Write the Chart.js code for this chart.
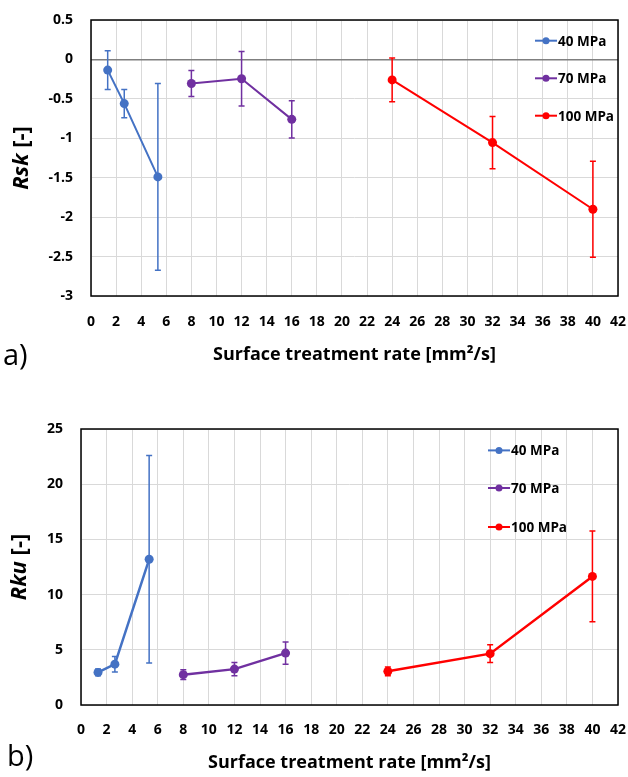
<!DOCTYPE html>
<html lang="en">
<head>
<meta charset="UTF-8">
<title>Rsk and Rku vs surface treatment rate</title>
<script src="https://cdn.jsdelivr.net/npm/chart.js@4.4.1/dist/chart.umd.min.js"></script>
<style>
  body { margin: 0; background: #fff; width: 628px; height: 777px; position: relative; overflow: hidden; }
  canvas { position: absolute; left: 0; }
  #chartA { top: 0; }
  #chartB { top: 390px; }
  .tag { position: absolute; font: 29px "Open Sans", sans-serif; color: #000; line-height: 34px; }
</style>
</head>
<body>
<canvas id="chartA" width="628" height="390"></canvas>
<canvas id="chartB" width="628" height="387"></canvas>
<div class="tag" style="left:3px;top:337px">a)</div>
<div class="tag" style="left:7px;top:738px">b)</div>
<script>
// surface treatment rate [mm²/s] for each pressure
var rate40 = [1.33, 2.65, 5.33];
var rate70 = [8, 12, 16];
var rate100 = [24, 32, 40];

// a) Rsk mean values and error bar half-widths
var rsk40 = [-0.135, -0.56, -1.49];
var rsk70 = [-0.305, -0.245, -0.76];
var rsk100 = [-0.26, -1.055, -1.90];
var rskErr40 = [0.245, 0.18, 1.185];
var rskErr70 = [0.165, 0.345, 0.235];
var rskErr100 = [0.277, 0.33, 0.61];

// b) Rku mean values and error bar half-widths
var rku40 = [2.95, 3.7, 13.2];
var rku70 = [2.75, 3.25, 4.7];
var rku100 = [3.05, 4.65, 11.65];
var rkuErr40 = [0.3, 0.7, 9.4];
var rkuErr70 = [0.45, 0.6, 1.0];
var rkuErr100 = [0.4, 0.8, 4.1];

var seriesNames = ["40 MPa", "70 MPa", "100 MPa"];
var seriesColors = ["#4472C4", "#7030A0", "#FF0000"];
var xTitle = "Surface treatment rate [mm\u00B2/s]";

var FONT = "'Open Sans', sans-serif";

function points(xs, ys) {
    return xs.map(function (x, i) { return { x: x, y: ys[i] }; });
}

// vertical error bars with caps, placed with the chart's own scales
var errorBars = {
    id: "errorBars",
    beforeDatasetsDraw: function (chart, args, opts) {
        var ctx = chart.ctx, xs = chart.scales.x, ys = chart.scales.y;
        ctx.save();
        ctx.lineWidth = opts.width;
        chart.data.datasets.forEach(function (ds, d) {
            var errs = opts.errors[d];
            ctx.strokeStyle = ds.borderColor;
            ds.data.forEach(function (p, i) {
                var px = xs.getPixelForValue(p.x);
                var top = ys.getPixelForValue(p.y + errs[i]);
                var bot = ys.getPixelForValue(p.y - errs[i]);
                ctx.beginPath();
                ctx.moveTo(px, top); ctx.lineTo(px, bot);
                ctx.moveTo(px - 3, top); ctx.lineTo(px + 3, top);
                ctx.moveTo(px - 3, bot); ctx.lineTo(px + 3, bot);
                ctx.stroke();
            });
        });
        ctx.restore();
    }
};

// black box round the plot area
var frame = {
    id: "frame",
    afterDraw: function (chart) {
        var a = chart.chartArea, ctx = chart.ctx;
        ctx.save();
        ctx.strokeStyle = "#000";
        ctx.lineWidth = 1.5;
        ctx.strokeRect(a.left, a.top, a.right - a.left, a.bottom - a.top);
        ctx.restore();
    }
};

// legend inside the plot, one row per series
var legendBox = {
    id: "legendBox",
    afterDraw: function (chart, args, opts) {
        var ctx = chart.ctx;
        ctx.save();
        ctx.font = "bold 13.5px " + FONT;
        ctx.textBaseline = "middle";
        chart.data.datasets.forEach(function (ds, i) {
            var y = chart.chartArea.top + opts.rows[i];
            var x = opts.x;
            ctx.strokeStyle = ds.borderColor;
            ctx.fillStyle = ds.borderColor;
            ctx.lineWidth = 2;
            ctx.beginPath(); ctx.moveTo(x, y); ctx.lineTo(x + 22, y); ctx.stroke();
            ctx.beginPath(); ctx.arc(x + 11, y, 3.5, 0, Math.PI * 2); ctx.fill();
            ctx.fillStyle = "#000";
            ctx.fillText(ds.label, x + 23, y + 1);
        });
        ctx.restore();
    }
};

// y title with italic symbol and upright unit
var yTitle = {
    id: "yTitle",
    afterDraw: function (chart, args, opts) {
        var ctx = chart.ctx, a = chart.chartArea;
        var f1 = "italic bold 22px " + FONT, f2 = "bold 22px " + FONT;
        ctx.save();
        ctx.font = f1; var w1 = ctx.measureText(opts.symbol).width;
        ctx.font = f2; var w2 = ctx.measureText(opts.unit).width;
        ctx.translate(opts.x, (a.top + a.bottom) / 2);
        ctx.rotate(-Math.PI / 2);
        ctx.textBaseline = "middle";
        ctx.textAlign = "left";
        ctx.fillStyle = "#000";
        var start = -(w1 + w2) / 2;
        ctx.font = f1; ctx.fillText(opts.symbol, start, 0);
        ctx.font = f2; ctx.fillText(opts.unit, start + w1, 0);
        ctx.restore();
    }
};

function makeChart(id, cfg) {
    var datasets = cfg.values.map(function (vals, i) {
        return {
            label: seriesNames[i],
            data: points([rate40, rate70, rate100][i], vals),
            borderColor: seriesColors[i],
            backgroundColor: seriesColors[i],
            pointBackgroundColor: seriesColors[i],
            borderWidth: cfg.lineWidth,
            pointRadius: 4.5,
            pointBorderWidth: 0,
            showLine: true,
            tension: 0
        };
    });
    return new Chart(document.getElementById(id), {
        type: "scatter",
        data: { datasets: datasets },
        plugins: [errorBars, frame, legendBox, yTitle],
        options: {
            responsive: false,
            animation: false,
            devicePixelRatio: 1,
            layout: { padding: { left: 0, right: 10, top: cfg.top, bottom: 0 } },
            plugins: {
                legend: { display: false },
                tooltip: { enabled: false },
                errorBars: { errors: cfg.errors, width: 1.5 },
                legendBox: { x: cfg.legendX, rows: cfg.legendRows },
                yTitle: { symbol: cfg.symbol, unit: " [-]", x: cfg.titleX }
            },
            scales: {
                x: {
                    type: "linear",
                    min: 0, max: 42,
                    afterFit: function (s) { s.height = cfg.xHeight; s.paddingLeft = 0; s.paddingRight = 0; },
                    ticks: { stepSize: 2, autoSkip: false, maxRotation: 0, color: "#000", padding: cfg.xTickPad,
                        font: { family: FONT, size: 14, weight: "bold" } },
                    grid: { color: "#d9d9d9", lineWidth: 1, drawTicks: false },
                    border: { display: false },
                    title: { display: true, text: xTitle, color: "#000", padding: { top: 0, bottom: cfg.xTitlePad },
                        font: { family: FONT, size: 18, weight: "bold" } }
                },
                y: {
                    min: cfg.yMin, max: cfg.yMax,
                    afterFit: function (s) { s.width = cfg.yWidth; s.paddingTop = 0; s.paddingBottom = 0; },
                    ticks: { stepSize: cfg.yStep, color: "#000", padding: 18,
                        font: { family: FONT, size: 14, weight: "bold" },
                        callback: function (v) { return String(Math.round(v * 10) / 10); } },
                    grid: {
                        drawTicks: false,
                        color: function (c) { return cfg.zeroLine && c.tick && c.tick.value === 0 ? "#7f7f7f" : "#d9d9d9"; },
                        lineWidth: function (c) { return cfg.zeroLine && c.tick && c.tick.value === 0 ? 1.5 : 1; }
                    },
                    border: { display: false }
                }
            }
        }
    });
}

makeChart("chartA", {
    values: [rsk40, rsk70, rsk100],
    errors: [rskErr40, rskErr70, rskErr100],
    yMin: -3, yMax: 0.5, yStep: 0.5, zeroLine: true,
    top: 20, yWidth: 91, xHeight: 94, xTickPad: 18, xTitlePad: 24,
    lineWidth: 2, symbol: "Rsk", titleX: 22,
    legendX: 535, legendRows: [20.7, 58.3, 95.7]
});

makeChart("chartB", {
    values: [rku40, rku70, rku100],
    errors: [rkuErr40, rkuErr70, rkuErr100],
    yMin: 0, yMax: 25, yStep: 5, zeroLine: false,
    top: 39, yWidth: 81, xHeight: 72, xTickPad: 17, xTitlePad: 3,
    lineWidth: 2.5, symbol: "Rku", titleX: 20,
    legendX: 488, legendRows: [21.4, 59, 98]
});
</script>
</body>
</html>
